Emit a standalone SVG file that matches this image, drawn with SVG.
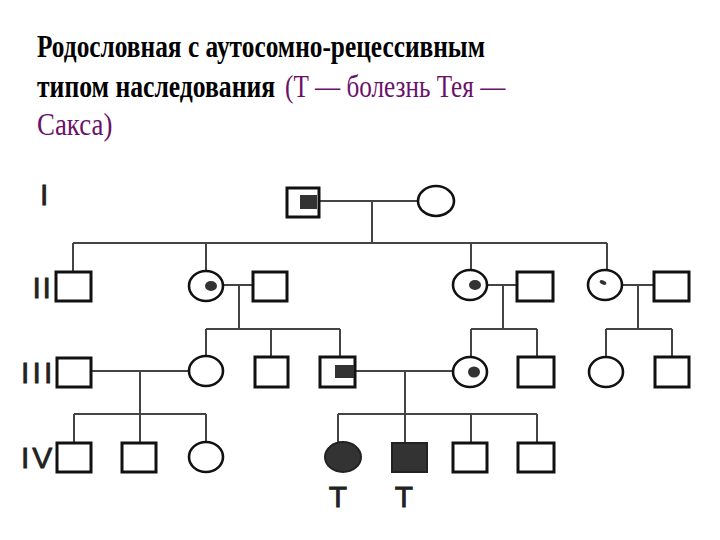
<svg xmlns="http://www.w3.org/2000/svg" width="720" height="540" viewBox="0 0 720 540">
<style>
.sq{fill:#fff;stroke:#111;stroke-width:3}
.ci{fill:#fff;stroke:#111;stroke-width:2.6}
.aff{fill:#333;stroke:#222;stroke-width:2}
.dot{fill:#333}
.ln{fill:none;stroke:#444;stroke-width:2}
.gen{font-family:"Liberation Sans",Arial,sans-serif;font-size:30px;fill:#222;stroke:#222;stroke-width:0.8}
.tt{font-family:"Liberation Serif","Times New Roman",serif;font-size:32px}
.b{font-weight:bold;fill:#000}
.p{font-weight:normal;fill:#6a1269;font-size:31px}
</style>
<rect width="720" height="540" fill="#fff"/>
<g id="title">
<text class="tt b" transform="translate(37,57) scale(0.81,1)" x="0" y="0" textLength="553" lengthAdjust="spacingAndGlyphs">Родословная с аутосомно-рецессивным</text>
<text class="tt b" transform="translate(37,97) scale(0.81,1)" x="0" y="0" textLength="294" lengthAdjust="spacingAndGlyphs">типом наследования</text>
<text class="tt p" transform="translate(285,97) scale(0.81,1)" x="0" y="0" textLength="272" lengthAdjust="spacingAndGlyphs">(Т — болезнь Тея —</text>
<text class="tt p" transform="translate(37,135) scale(0.81,1)" x="0" y="0" textLength="93" lengthAdjust="spacingAndGlyphs">Сакса)</text>
</g>
<g id="generation-labels">
<text class="gen" x="40" y="205">I</text>
<text class="gen" x="32.5" y="298" letter-spacing="1.7">II</text>
<text class="gen" x="21" y="383" letter-spacing="3.2">III</text>
<text class="gen" x="21" y="468" font-size="28" letter-spacing="3">IV</text>
</g>
<g id="connectors">
<path class="ln" d="M319,201H418M372,201V243M73,243H607M73,243V272M206,243V271M471,243V270M607,243V270"/>
<path class="ln" d="M223,285H253M239,285V329M206,329H340M206,329V357M271,329V357M340,329V357"/>
<path class="ln" d="M487,285H517M503,285V329M471,329H537M471,329V357M537,329V357"/>
<path class="ln" d="M623,285H654M638,285V329M606,329H672M606,329V357M672,329V357"/>
<path class="ln" d="M91,371H189M140,371V414M74,414H206M74,414V443M140,414V443M206,414V442"/>
<path class="ln" d="M355,371H453M405,371V414M338,414H537M338,414V442M405,414V443M471,414V443M537,414V443"/>
</g>
<g id="I-1"><rect class="sq" x="287" y="188" width="32" height="29"/><rect class="dot" x="300" y="195" width="17" height="14"/></g>
<g id="I-2"><ellipse class="ci" cx="436" cy="201" rx="18" ry="15"/></g>
<g id="II-1"><rect class="sq" x="56" y="272" width="35" height="29"/></g>
<g id="II-2"><ellipse class="ci" cx="206" cy="286" rx="17" ry="15"/><ellipse class="dot" cx="211" cy="286" rx="6" ry="5"/></g>
<g id="II-3"><rect class="sq" x="253" y="272" width="34" height="29"/></g>
<g id="II-4"><ellipse class="ci" cx="470" cy="285" rx="17" ry="15"/><ellipse class="dot" cx="475" cy="285" rx="6" ry="5"/></g>
<g id="II-5"><rect class="sq" x="517" y="272" width="36" height="29"/></g>
<g id="II-6"><ellipse class="ci" cx="605" cy="285" rx="17" ry="15"/><ellipse class="dot" cx="603" cy="282.5" rx="3.5" ry="2" transform="rotate(25 603 282.5)"/></g>
<g id="II-7"><rect class="sq" x="654" y="272" width="35" height="29"/></g>
<g id="III-1"><rect class="sq" x="57" y="358" width="34" height="29"/></g>
<g id="III-2"><ellipse class="ci" cx="206" cy="371" rx="17" ry="15"/></g>
<g id="III-3"><rect class="sq" x="255" y="357" width="33" height="30"/></g>
<g id="III-4"><rect class="sq" x="320" y="357" width="35" height="30"/><rect class="dot" x="335" y="365" width="19" height="13"/></g>
<g id="III-5"><ellipse class="ci" cx="470" cy="372" rx="17" ry="15"/><ellipse class="dot" cx="474" cy="372" rx="6" ry="5.5"/></g>
<g id="III-6"><rect class="sq" x="518" y="357" width="36" height="30"/></g>
<g id="III-7"><ellipse class="ci" cx="606" cy="372" rx="17" ry="15"/></g>
<g id="III-8"><rect class="sq" x="655" y="357" width="34" height="30"/></g>
<g id="IV-1"><rect class="sq" x="57" y="443" width="34" height="29"/></g>
<g id="IV-2"><rect class="sq" x="122" y="443" width="34" height="29"/></g>
<g id="IV-3"><ellipse class="ci" cx="206" cy="457" rx="17" ry="15"/></g>
<g id="IV-4"><ellipse class="aff" cx="343" cy="457" rx="18" ry="15"/><text class="gen" x="338" y="507" text-anchor="middle">T</text></g>
<g id="IV-5"><rect class="aff" x="392" y="443" width="35" height="29"/><text class="gen" x="404" y="507" text-anchor="middle">T</text></g>
<g id="IV-6"><rect class="sq" x="453" y="443" width="34" height="29"/></g>
<g id="IV-7"><rect class="sq" x="518" y="443" width="36" height="29"/></g>
</svg>
